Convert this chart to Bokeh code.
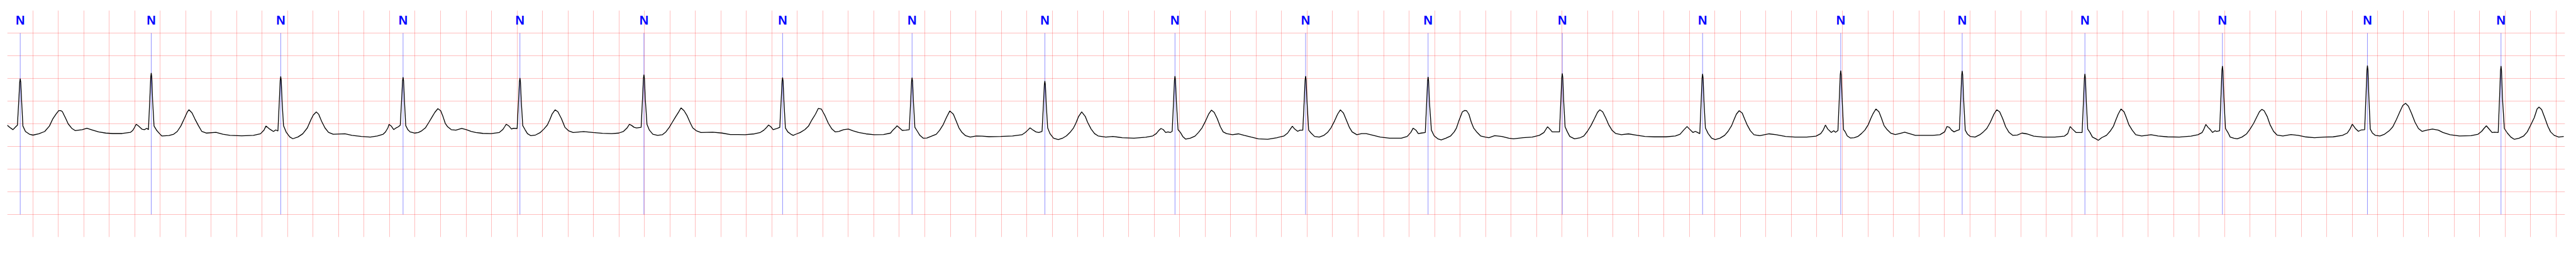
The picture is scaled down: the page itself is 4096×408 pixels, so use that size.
from bokeh.plotting import figure
from bokeh.models import Range1d, Grid, FixedTicker, SingleIntervalTicker
from bokeh.core.properties import value
from bokeh.embed import file_html
from bokeh.resources import INLINE

# ---- data (time in s, amplitude in mV) ----
ecg_points = [
    # beat 1
    (0.000,-0.03),(0.020,-0.08),(0.045,-0.13),(0.069,-0.06),(0.080,-0.03),(0.091,0.53),(0.098,0.92),(0.102,0.995),(0.106,0.92),(0.113,0.50),(0.123,-0.05),
    (0.143,-0.17),(0.174,-0.23),(0.202,-0.25),(0.248,-0.22),(0.294,-0.17),(0.331,-0.05),(0.358,0.11),(0.382,0.21),(0.404,0.29),(0.420,0.29),(0.432,0.27),
    (0.460,0.11),(0.478,0.00),(0.506,-0.10),(0.533,-0.15),(0.588,-0.13),(0.625,-0.10),(0.671,-0.14),(0.717,-0.18),(0.773,-0.205),(0.828,-0.215),(0.901,-0.215),
    (0.966,-0.19),(0.984,-0.15),(0.997,-0.09),(1.012,-0.01),(1.030,-0.05),(1.058,-0.12),(1.076,-0.13),(1.095,-0.10),(1.108,-0.13),
    # beat 2
    (1.119,0.558),(1.126,1.033),(1.130,1.121),(1.134,1.033),(1.141,0.50),(1.152,-0.05),(1.174,-0.15),(1.196,-0.22),(1.214,-0.27),(1.269,-0.26),(1.306,-0.23),
    (1.334,-0.17),(1.362,-0.05),(1.389,0.11),(1.413,0.26),(1.426,0.31),(1.450,0.24),(1.472,0.11),(1.500,-0.04),(1.527,-0.17),(1.564,-0.205),(1.638,-0.19),
    (1.693,-0.23),(1.748,-0.255),(1.840,-0.265),(1.932,-0.255),(1.987,-0.22),(2.015,-0.14),(2.030,-0.05),(2.061,-0.12),(2.089,-0.17),(2.107,-0.135),(2.124,-0.16),
    # beat 3
    (2.135,0.503),(2.142,0.961),(2.146,1.045),(2.150,0.961),(2.157,0.48),(2.168,-0.04),(2.190,-0.19),(2.217,-0.29),(2.241,-0.33),(2.282,-0.29),(2.319,-0.22),
    (2.355,-0.09),(2.383,0.09),(2.401,0.19),(2.425,0.26),(2.444,0.21),(2.466,0.06),(2.493,-0.09),(2.521,-0.19),(2.558,-0.23),(2.650,-0.22),(2.705,-0.255),
    (2.779,-0.28),(2.849,-0.293),(2.904,-0.268),(2.950,-0.23),(2.968,-0.18),(2.987,-0.09),(2.996,-0.015),(3.014,-0.053),(3.033,-0.129),(3.051,-0.091),
    (3.069,-0.066),(3.084,-0.03),
    # beat 4
    (3.095,0.55),(3.102,0.951),(3.106,1.025),(3.110,0.951),(3.117,0.50),(3.127,-0.04),(3.143,-0.129),(3.161,-0.179),(3.180,-0.192),(3.198,-0.205),(3.226,-0.192),
    (3.253,-0.154),(3.281,-0.091),(3.309,0.035),(3.336,0.162),(3.355,0.250),(3.379,0.333),(3.401,0.288),(3.419,0.162),(3.437,0.010),(3.456,-0.066),(3.484,-0.129),
    (3.520,-0.141),(3.566,-0.104),(3.603,-0.129),(3.640,-0.167),(3.677,-0.192),(3.732,-0.212),(3.796,-0.217),(3.861,-0.192),(3.888,-0.129),(3.903,-0.066),
    (3.916,-0.010),(3.938,-0.053),(3.957,-0.116),(3.971,-0.098),(4.001,-0.104),
    # beat 5
    (4.012,0.508),(4.019,0.930),(4.023,1.008),(4.027,0.930),(4.034,0.48),(4.045,-0.04),(4.063,-0.129),(4.082,-0.217),(4.109,-0.263),(4.146,-0.247),(4.183,-0.192),
    (4.211,-0.116),(4.238,-0.028),(4.257,0.086),(4.275,0.212),(4.299,0.308),(4.321,0.263),(4.349,0.111),(4.376,-0.078),(4.404,-0.154),(4.441,-0.192),(4.523,-0.172),
    (4.597,-0.192),(4.671,-0.210),(4.744,-0.217),(4.799,-0.205),(4.836,-0.167),(4.864,-0.091),(4.882,-0.010),(4.901,-0.040),(4.919,-0.078),(4.938,-0.091),(4.974,-0.078),
    # beat 6
    (4.985,0.561),(4.992,1.002),(4.996,1.083),(5.000,1.002),(5.007,0.53),(5.020,-0.015),(5.039,-0.141),(5.066,-0.230),(5.103,-0.255),(5.140,-0.242),(5.168,-0.179),
    (5.195,-0.078),(5.219,0.035),(5.241,0.136),(5.269,0.263),(5.287,0.351),(5.311,0.288),(5.333,0.187),(5.361,0.010),(5.379,-0.091),(5.407,-0.154),(5.444,-0.192),
    (5.536,-0.187),(5.609,-0.205),(5.674,-0.237),(5.734,-0.237),(5.790,-0.242),(5.863,-0.222),(5.909,-0.192),(5.937,-0.141),(5.955,-0.091),(5.974,-0.028),
    (5.992,-0.066),(6.010,-0.129),(6.033,-0.111),(6.047,-0.096),(6.062,-0.078),
    # beat 7
    (6.073,0.526),(6.080,0.943),(6.084,1.020),(6.088,0.943),(6.095,0.47),(6.106,-0.091),(6.125,-0.179),(6.149,-0.230),(6.167,-0.255),(6.195,-0.222),(6.222,-0.192),
    (6.259,-0.129),(6.287,-0.053),(6.314,0.086),(6.342,0.212),(6.364,0.338),(6.388,0.326),(6.415,0.187),(6.443,0.010),(6.471,-0.116),(6.498,-0.179),(6.526,-0.167),
    (6.563,-0.129),(6.600,-0.116),(6.636,-0.154),(6.682,-0.192),(6.738,-0.222),(6.802,-0.242),(6.876,-0.237),(6.931,-0.205),(6.949,-0.141),(6.968,-0.091),
    (6.982,-0.045),(7.001,-0.091),(7.023,-0.146),(7.050,-0.141),(7.078,-0.129),
    # beat 8
    (7.089,0.500),(7.096,0.935),(7.100,1.015),(7.104,0.935),(7.111,0.47),(7.122,-0.078),(7.142,-0.167),(7.161,-0.255),(7.188,-0.318),(7.216,-0.313),(7.253,-0.273),
    (7.290,-0.230),(7.317,-0.141),(7.345,-0.015),(7.369,0.136),(7.396,0.283),(7.424,0.212),(7.446,0.061),(7.468,-0.091),(7.492,-0.192),(7.520,-0.263),(7.557,-0.293),
    (7.603,-0.268),(7.649,-0.273),(7.704,-0.285),(7.796,-0.280),(7.888,-0.268),(7.962,-0.242),(7.989,-0.192),(8.008,-0.141),(8.026,-0.091),(8.044,-0.129),
    (8.072,-0.179),(8.094,-0.192),(8.120,-0.167),
    # beat 9
    (8.131,0.444),(8.138,0.866),(8.142,0.944),(8.146,0.866),(8.153,0.42),(8.164,-0.091),(8.182,-0.217),(8.210,-0.318),(8.247,-0.348),(8.284,-0.313),(8.311,-0.268),
    (8.339,-0.192),(8.367,-0.091),(8.385,0.010),(8.407,0.162),(8.431,0.263),(8.459,0.162),(8.477,0.035),(8.505,-0.116),(8.532,-0.217),(8.560,-0.268),(8.620,-0.293),
    (8.676,-0.280),(8.749,-0.306),(8.841,-0.318),(8.933,-0.298),(8.988,-0.268),(9.016,-0.217),(9.034,-0.154),(9.053,-0.104),(9.071,-0.129),(9.090,-0.192),
    (9.108,-0.179),(9.127,-0.192),(9.141,-0.167),
    # beat 10
    (9.152,0.503),(9.159,0.966),(9.163,1.051),(9.167,0.966),(9.174,0.49),(9.187,-0.129),(9.206,-0.192),(9.224,-0.280),(9.246,-0.338),(9.283,-0.318),(9.320,-0.273),
    (9.347,-0.192),(9.375,-0.091),(9.403,0.061),(9.427,0.212),(9.449,0.301),(9.471,0.250),(9.495,0.111),(9.519,-0.066),(9.541,-0.179),(9.568,-0.217),(9.614,-0.242),
    (9.660,-0.222),(9.706,-0.255),(9.761,-0.293),(9.817,-0.331),(9.890,-0.343),(9.964,-0.306),(10.019,-0.268),(10.047,-0.205),(10.065,-0.129),(10.084,-0.053),
    (10.102,-0.116),(10.126,-0.167),(10.144,-0.141),(10.166,-0.141),
    # beat 11
    (10.177,0.515),(10.184,0.968),(10.188,1.051),(10.192,0.968),(10.199,0.49),(10.212,-0.141),(10.231,-0.205),(10.258,-0.280),(10.295,-0.293),(10.332,-0.255),
    (10.360,-0.192),(10.387,-0.091),(10.415,0.061),(10.439,0.212),(10.461,0.308),(10.485,0.237),(10.507,0.086),(10.531,-0.078),(10.553,-0.179),(10.590,-0.242),
    (10.627,-0.217),(10.663,-0.217),(10.719,-0.255),(10.774,-0.293),(10.847,-0.318),(10.939,-0.318),(10.985,-0.280),(11.013,-0.192),(11.032,-0.096),(11.054,-0.141),
    (11.072,-0.217),(11.096,-0.205),(11.127,-0.192),
    # beat 12
    (11.138,0.482),(11.145,0.947),(11.149,1.033),(11.153,0.947),(11.160,0.46),(11.175,-0.141),(11.197,-0.268),(11.225,-0.331),(11.252,-0.356),(11.289,-0.318),
    (11.326,-0.268),(11.354,-0.179),(11.372,-0.091),(11.390,0.061),(11.418,0.263),(11.436,0.293),(11.451,0.288),(11.469,0.212),(11.488,0.035),(11.506,-0.091),
    (11.534,-0.192),(11.561,-0.268),(11.598,-0.293),(11.626,-0.306),(11.672,-0.263),(11.727,-0.280),(11.782,-0.318),(11.819,-0.331),(11.893,-0.306),(11.966,-0.293),
    (12.022,-0.255),(12.058,-0.192),(12.086,-0.066),(12.104,-0.116),(12.123,-0.179),(12.150,-0.179),(12.180,-0.179),
    # beat 13
    (12.191,0.529),(12.198,1.019),(12.202,1.109),(12.206,1.019),(12.213,0.50),(12.224,-0.066),(12.242,-0.179),(12.261,-0.280),(12.298,-0.331),(12.344,-0.306),
    (12.371,-0.268),(12.399,-0.167),(12.427,-0.040),(12.454,0.111),(12.478,0.250),(12.496,0.308),(12.519,0.263),(12.546,0.111),(12.565,-0.015),(12.592,-0.141),
    (12.620,-0.212),(12.666,-0.242),(12.721,-0.222),(12.776,-0.247),(12.850,-0.280),(12.924,-0.288),(13.015,-0.288),(13.089,-0.268),(13.126,-0.230),(13.154,-0.141),
    (13.181,-0.061),(13.200,-0.116),(13.227,-0.192),(13.246,-0.167),(13.264,-0.192),(13.281,-0.217),
    # beat 14
    (13.292,0.508),(13.299,1.009),(13.303,1.101),(13.307,1.009),(13.314,0.49),(13.325,-0.091),(13.347,-0.217),(13.374,-0.318),(13.402,-0.348),(13.439,-0.318),
    (13.476,-0.255),(13.503,-0.167),(13.531,-0.040),(13.549,0.086),(13.568,0.212),(13.590,0.288),(13.614,0.237),(13.632,0.111),(13.651,-0.015),(13.678,-0.154),
    (13.706,-0.242),(13.752,-0.263),(13.825,-0.222),(13.881,-0.242),(13.954,-0.280),(14.028,-0.293),(14.120,-0.293),(14.193,-0.273),(14.230,-0.217),(14.249,-0.141),
    (14.267,-0.028),(14.285,-0.116),(14.313,-0.192),(14.332,-0.154),(14.346,-0.187),(14.365,-0.150),
    # beat 15
    (14.376,0.577),(14.383,1.079),(14.387,1.172),(14.391,1.079),(14.398,0.55),(14.409,-0.129),(14.420,-0.167),(14.438,-0.268),(14.462,-0.313),(14.493,-0.306),
    (14.521,-0.280),(14.549,-0.217),(14.576,-0.141),(14.604,-0.015),(14.622,0.111),(14.641,0.225),(14.663,0.326),(14.687,0.263),(14.705,0.136),(14.727,-0.040),
    (14.751,-0.129),(14.779,-0.205),(14.815,-0.237),(14.852,-0.212),(14.889,-0.187),(14.926,-0.217),(14.972,-0.255),(15.036,-0.255),(15.110,-0.255),(15.165,-0.242),
    (15.202,-0.179),(15.220,-0.061),(15.239,-0.078),(15.257,-0.141),(15.276,-0.179),(15.294,-0.154),(15.318,-0.129),
    # beat 16
    (15.329,0.584),(15.336,1.076),(15.340,1.167),(15.344,1.076),(15.351,0.55),(15.364,-0.141),(15.382,-0.230),(15.404,-0.280),(15.441,-0.293),(15.478,-0.242),
    (15.506,-0.179),(15.533,-0.104),(15.561,0.035),(15.589,0.212),(15.611,0.308),(15.634,0.263),(15.658,0.111),(15.681,-0.066),(15.708,-0.192),(15.736,-0.255),
    (15.773,-0.247),(15.809,-0.205),(15.846,-0.222),(15.901,-0.273),(15.975,-0.293),(16.067,-0.293),(16.141,-0.273),(16.168,-0.217),(16.187,-0.061),(16.205,-0.116),
    (16.233,-0.192),(16.251,-0.192),(16.281,-0.192),
    # beat 17
    (16.292,0.519),(16.299,1.010),(16.303,1.101),(16.307,1.010),(16.314,0.49),(16.325,-0.116),(16.343,-0.192),(16.362,-0.293),(16.389,-0.331),(16.408,-0.364),
    (16.435,-0.306),(16.472,-0.255),(16.500,-0.167),(16.527,-0.053),(16.546,0.086),(16.564,0.212),(16.586,0.326),(16.610,0.263),(16.628,0.136),(16.647,-0.015),
    (16.674,-0.141),(16.702,-0.242),(16.748,-0.268),(16.822,-0.242),(16.877,-0.268),(16.951,-0.288),(17.043,-0.293),(17.135,-0.273),(17.190,-0.242),(17.223,-0.192),
    (17.237,-0.116),(17.252,-0.015),(17.269,-0.078),(17.287,-0.129),(17.305,-0.192),(17.324,-0.154),(17.337,-0.167),(17.360,-0.154),
    # beat 18
    (17.371,0.631),(17.378,1.173),(17.382,1.273),(17.386,1.173),(17.393,0.58),(17.406,-0.104),(17.425,-0.192),(17.443,-0.293),(17.471,-0.318),(17.498,-0.331),
    (17.535,-0.293),(17.572,-0.222),(17.599,-0.116),(17.627,0.010),(17.649,0.136),(17.672,0.263),(17.691,0.318),(17.709,0.288),(17.733,0.162),(17.755,-0.015),
    (17.783,-0.167),(17.810,-0.247),(17.856,-0.268),(17.920,-0.237),(17.975,-0.255),(18.030,-0.288),(18.104,-0.306),(18.177,-0.293),(18.251,-0.288),(18.324,-0.255),
    (18.361,-0.205),(18.383,-0.116),(18.401,-0.010),(18.425,-0.104),(18.449,-0.167),(18.471,-0.136),(18.498,-0.129),
    # beat 19
    (18.509,0.649),(18.516,1.186),(18.520,1.285),(18.524,1.186),(18.531,0.60),(18.542,-0.116),(18.559,-0.205),(18.581,-0.255),(18.618,-0.268),(18.654,-0.230),
    (18.691,-0.154),(18.719,-0.066),(18.746,0.086),(18.774,0.263),(18.797,0.402),(18.819,0.452),(18.841,0.389),(18.865,0.237),(18.893,0.035),(18.920,-0.104),
    (18.948,-0.167),(18.985,-0.141),(19.030,-0.116),(19.076,-0.141),(19.113,-0.192),(19.168,-0.242),(19.242,-0.268),(19.333,-0.263),(19.388,-0.230),(19.416,-0.167),
    (19.434,-0.104),(19.453,-0.045),(19.471,-0.104),(19.498,-0.192),(19.517,-0.187),(19.546,-0.192),
    # beat 20
    (19.557,0.614),(19.564,1.170),(19.568,1.273),(19.572,1.170),(19.579,0.58),(19.594,-0.104),(19.618,-0.205),(19.645,-0.293),(19.673,-0.343),(19.710,-0.318),
    (19.746,-0.268),(19.774,-0.179),(19.801,-0.028),(19.829,0.136),(19.851,0.326),(19.866,0.369),(19.887,0.313),(19.911,0.136),(19.935,-0.053),(19.957,-0.179),
    (19.985,-0.255),(20.021,-0.293),(20.060,-0.280),
]
time_s = [t for t, _ in ecg_points]
ecg_mv = [v for _, v in ecg_points]

# beat annotations (R-peak times and symbols)
ann_times = [0.102, 1.130, 2.146, 3.106, 4.023, 4.996, 6.084, 7.100, 8.142, 9.163,
             10.188, 11.149, 12.202, 13.303, 14.387, 15.340, 16.303, 17.382, 18.520, 19.568]
ann_symbols = ["N"] * len(ann_times)

# grid / range settings (mV)
y_grid_mv = [-2.5, -2.0, -1.5, -1.0, -0.5, 0.0, 0.5, 1.0, 1.5, 2.0]
x_limits = (0.0, 20.07)
y_limits = (-2.5, 2.5)
ann_line_lo, ann_line_hi = -2.0, 2.0
ann_label_y = 2.29

p = figure(width=4080, height=392,
           x_range=Range1d(*x_limits), y_range=Range1d(*y_limits),
           x_axis_type=None, y_axis_type=None,
           output_backend="svg", toolbar_location=None,
           min_border_left=11, min_border_right=2, min_border_top=16, min_border_bottom=16)
p.outline_line_color = None
p.background_fill_color = "white"
p.border_fill_color = "white"

xg = Grid(dimension=0, ticker=SingleIntervalTicker(interval=0.2),
          grid_line_color="red", grid_line_alpha=0.25, grid_line_width=1)
yg = Grid(dimension=1, ticker=FixedTicker(ticks=y_grid_mv),
          grid_line_color="red", grid_line_alpha=0.25, grid_line_width=1)
p.add_layout(xg)
p.add_layout(yg)

p.segment(x0=ann_times, y0=[ann_line_lo] * len(ann_times),
          x1=ann_times, y1=[ann_line_hi] * len(ann_times),
          line_color="blue", line_alpha=0.55, line_width=0.8)

p.line(time_s, ecg_mv, line_color="black", line_width=1.3)

p.text(x=ann_times, y=[ann_label_y] * len(ann_times), text=ann_symbols,
       text_color="blue", text_font=value("Liberation Sans"),
       text_font_style="bold", text_font_size="20px",
       text_align="center", text_baseline="alphabetic")

open("out.html", "w").write(file_html(p, INLINE))
